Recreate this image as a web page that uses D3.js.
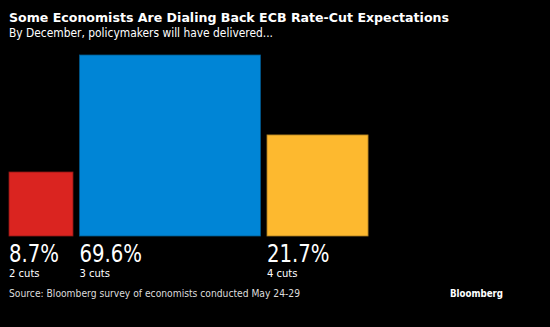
<!DOCTYPE html>
<html lang="en">
<head>
<meta charset="UTF-8">
<title>ECB Rate-Cut Expectations</title>
<style>
  body { margin: 0; background: #000; }
  svg { display: block; font-family: "DejaVu Sans", sans-serif; }
</style>
</head>
<body>
<svg id="chart" width="550" height="327"></svg>
<script src="https://d3js.org/d3.v7.min.js"></script>
<script>
var cuts = ["2 cuts", "3 cuts", "4 cuts"];
var shares = [8.7, 69.6, 21.7];
var colors = ["#da2420", "#0085d6", "#fdb92f"];

var svg = d3.select("#chart");
svg.append("rect").attr("width", 550).attr("height", 327).attr("fill", "#000");

svg.append("text").attr("x", 9).attr("y", 22)
    .attr("fill", "#fff").attr("font-weight", "bold").attr("font-size", 13)
    .attr("textLength", 440).attr("lengthAdjust", "spacingAndGlyphs")
    .text("Some Economists Are Dialing Back ECB Rate-Cut Expectations");
svg.append("text").attr("x", 9).attr("y", 37)
    .attr("fill", "#fff").attr("font-size", 12)
    .attr("textLength", 264).attr("lengthAdjust", "spacingAndGlyphs")
    .text("By December, policymakers will have delivered...");

// square side ~ sqrt(value), so area is proportional to share
var side = d3.scaleSqrt().domain([0, d3.max(shares)]).range([0, 181]);
var left = 9, base = 236, gap = 6.5;

var data = shares.map(function(v, i) { return { v: v, label: cuts[i], color: colors[i] }; });
var x = left;
data.forEach(function(d) { d.x = x; d.s = side(d.v); x += d.s + gap; });

var g = svg.selectAll("g.item").data(data).enter().append("g").attr("class", "item");

g.append("rect")
    .attr("x", function(d) { return d.x; })
    .attr("y", function(d) { return base - d.s; })
    .attr("width", function(d) { return d.s; })
    .attr("height", function(d) { return d.s; })
    .attr("fill", function(d) { return d.color; })
    .attr("stroke", function(d) { return d3.color(d.color).darker(1.2); })
    .attr("stroke-width", 0.8);

// big percentages, narrowed a bit to match the condensed look
g.append("text")
    .attr("x", function(d) { return d.x; })
    .attr("y", 262)
    .attr("fill", "#fff").attr("font-size", 24)
    .text(function(d) { return d.v.toFixed(1) + "%"; })
    .each(function() {
        var w = this.getComputedTextLength();
        d3.select(this).attr("textLength", w * 0.82).attr("lengthAdjust", "spacingAndGlyphs");
    });

g.append("text")
    .attr("x", function(d) { return d.x; })
    .attr("y", 277)
    .attr("fill", "#fff").attr("font-size", 10)
    .text(function(d) { return d.label; });

svg.append("text").attr("x", 9).attr("y", 297)
    .attr("fill", "#ddd").attr("font-size", 10.5)
    .attr("textLength", 291).attr("lengthAdjust", "spacingAndGlyphs")
    .text("Source: Bloomberg survey of economists conducted May 24-29");
svg.append("text").attr("x", 450).attr("y", 297)
    .attr("fill", "#fff").attr("font-weight", "bold").attr("font-size", 10.5)
    .attr("textLength", 53).attr("lengthAdjust", "spacingAndGlyphs")
    .text("Bloomberg");
</script>
</body>
</html>
